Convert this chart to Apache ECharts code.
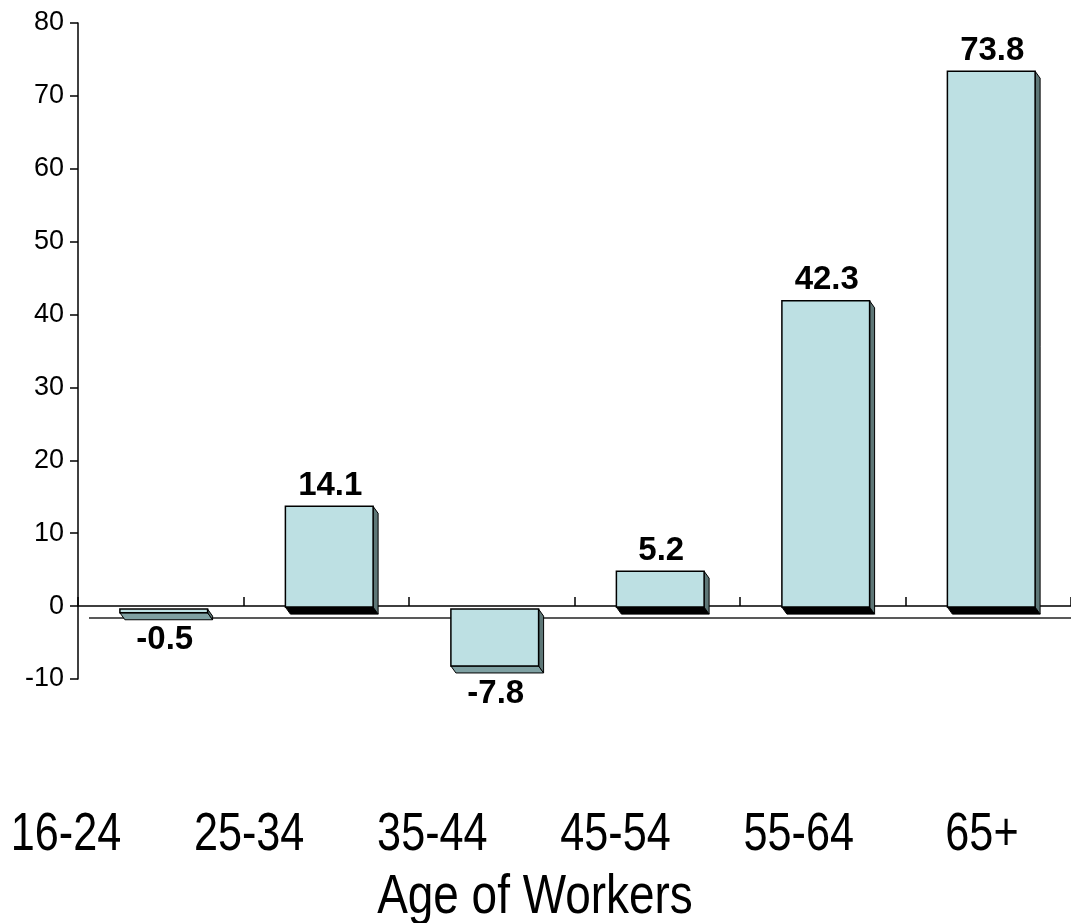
<!DOCTYPE html>
<html><head><meta charset="utf-8">
<script src="https://cdn.jsdelivr.net/npm/echarts@6/dist/echarts.min.js"></script>
<style>html,body{margin:0;padding:0;background:#fff}#c{width:1071px;height:923px}</style>
</head><body><div id="c"></div>
<script>
const categories = ['16-24', '25-34', '35-44', '45-54', '55-64', '65+'];
const values = [-0.5, 14.1, -7.8, 5.2, 42.3, 73.8];
const axisTitle = 'Age of Workers';

const SANS = '"Liberation Sans", Arial, sans-serif';

function renderBar(params, api) {
  const i = params.dataIndex;
  const v = api.value(1);
  const c0 = api.coord([i, 0]);
  const cv = api.coord([i, v]);
  const bw = api.size([1, 0])[0] * 0.53;
  const cx = c0[0] + 3;
  const x0 = cx - bw / 2, x1 = cx + bw / 2;
  const dx = 5, dy = 7;
  let yt, yb;
  if (v >= 0) { yt = cv[1] + 3; yb = c0[1] + 1; } else { yt = c0[1] + 3; yb = cv[1] + 3; }
  const cs = params.coordSys;
  const children = [];
  if (i === 0) {
    children.push({type: 'line', shape: {x1: cs.x + 11, y1: c0[1] + 12, x2: cs.x + cs.width, y2: c0[1] + 12},
      style: {stroke: '#222', lineWidth: 1.5}});
  }
  children.push({type: 'polygon', shape: {points: [[x0, yb], [x1, yb], [x1 + dx, yb + dy], [x0 + dx, yb + dy]]},
    style: {fill: v >= 0 ? '#000' : '#7fa1a3', stroke: '#000', lineWidth: 1}});
  children.push({type: 'polygon', shape: {points: [[x1, yt], [x1 + dx, yt + dy], [x1 + dx, yb + dy], [x1, yb]]},
    style: {fill: '#5e7777', stroke: '#000', lineWidth: 1}});
  children.push({type: 'rect', shape: {x: x0, y: yt, width: bw, height: yb - yt},
    style: {fill: '#bde0e3', stroke: '#000', lineWidth: 1.5}});
  children.push({type: 'text', style: {
    text: v.toFixed(1), x: cx + 1, y: v >= 0 ? yt - 4 : yb + dy + 4,
    align: 'center', verticalAlign: v >= 0 ? 'bottom' : 'top',
    font: 'bold 33px ' + SANS, fill: '#000'}});
  return {type: 'group', children};
}

function renderCat(params, api) {
  const i = params.dataIndex;
  const cs = params.coordSys;
  const x = api.coord([i, 0])[0];
  const base = cs.y + cs.height;
  const children = [{
    type: 'text', x: x, y: base + 35, scaleX: 0.8, scaleY: 1,
    style: {text: categories[i], x: 0, y: 0, align: 'center', verticalAlign: 'middle',
      font: '54px ' + SANS, fill: '#000'}
  }];
  if (i === 0) {
    children.push({
      type: 'text', x: api.coord([2.5, 0])[0] + 11, y: base + 98, scaleX: 0.82, scaleY: 1,
      style: {text: axisTitle, x: 0, y: 0, align: 'center', verticalAlign: 'middle',
        font: '56px ' + SANS, fill: '#000'}
    });
  }
  return {type: 'group', children};
}

const chart = echarts.init(document.getElementById('c'), null, {renderer: 'canvas'});
chart.setOption({
  animation: false,
  backgroundColor: '#fff',
  grid: [
    {left: 78, right: -3, top: 23, bottom: 244},
    {left: 0, right: 0, top: 690, height: 110}
  ],
  xAxis: [
    {type: 'category', gridIndex: 0, data: categories, boundaryGap: true,
     axisLine: {onZero: true, lineStyle: {color: '#000', width: 1.5}},
     axisTick: {show: true, inside: true, length: 9, lineStyle: {color: '#000', width: 1.5}},
     axisLabel: {show: false}, splitLine: {show: false}},
    {type: 'value', gridIndex: 1, min: -0.36, max: 5.486, show: false}
  ],
  yAxis: [
    {type: 'value', gridIndex: 0, min: -10, max: 80, interval: 10,
     axisLine: {show: true, lineStyle: {color: '#000', width: 1.5}},
     axisTick: {show: true, inside: false, length: 8, lineStyle: {color: '#000', width: 1.5}},
     axisLabel: {color: '#000', fontFamily: SANS, fontSize: 27, margin: 14},
     splitLine: {show: false}},
    {type: 'value', gridIndex: 1, show: false, min: 0, max: 1}
  ],
  series: [{
    type: 'custom', xAxisIndex: 0, yAxisIndex: 0,
    renderItem: renderBar,
    data: values.map((v, i) => [i, v]),
    clip: false
  }, {
    type: 'custom', xAxisIndex: 1, yAxisIndex: 1,
    renderItem: renderCat,
    data: categories.map((c, i) => [i, 0]),
    clip: false, silent: true
  }]
});
</script></body></html>
